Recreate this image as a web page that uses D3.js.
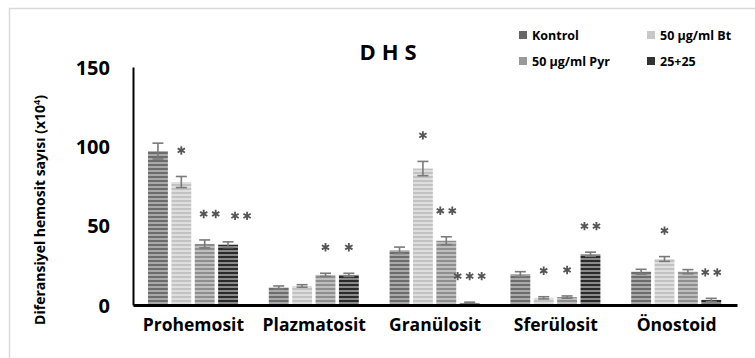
<!DOCTYPE html>
<html>
<head>
<meta charset="utf-8">
<script src="https://cdn.jsdelivr.net/npm/d3@7"></script>
<style>
  html, body { margin: 0; padding: 0; background: #fff; }
  svg { display: block; font-family: "Open Sans", "Liberation Sans", sans-serif; }
</style>
</head>
<body>
<svg id="chart" width="755" height="358"></svg>
<script>
// ---- data ----
const categories = ["Prohemosit", "Plazmatosit", "Granülosit", "Sferülosit", "Önostoid"];
const seriesNames = ["Kontrol", "50 µg/ml Bt", "50 µg/ml Pyr", "25+25"];
const kontrolValues = [97, 11, 34.5, 19.5, 21];
const kontrolErrors = [5, 1, 2, 1.5, 1.5];
const btValues = [77.5, 12, 86, 4.5, 29];
const btErrors = [3.5, 0.8, 4.5, 0.7, 1.5];
const pyrValues = [38.5, 19, 40.5, 5, 21];
const pyrErrors = [2.5, 1, 2.5, 0.7, 1.3];
const comboValues = [38, 19, 1.3, 32, 3.2];
const comboErrors = [1.8, 1, 0.5, 1.3, 1];
const kontrolStars = ["", "", "", "", ""];
const btStars = ["*", "", "*", "*", "*"];
const pyrStars = ["**", "*", "**", "*", ""];
const comboStars = ["**", "*", "***", "**", "**"];
const yTicks = [0, 50, 100, 150];
const titleText = "DHS";
const yAxisTitle = "Diferansiyel hemosit sayısı (x10";

// ---- build table ----
const seriesValues = [kontrolValues, btValues, pyrValues, comboValues];
const seriesErrors = [kontrolErrors, btErrors, pyrErrors, comboErrors];
const seriesStars = [kontrolStars, btStars, pyrStars, comboStars];
const table = [];
categories.forEach((c, ci) => {
  seriesNames.forEach((s, si) => {
    table.push({ cat: c, series: s, si, value: seriesValues[si][ci], err: seriesErrors[si][ci], stars: seriesStars[si][ci] });
  });
});

// ---- styles ----
const stripeDark = ["#6c6c6c", "#c2c2c2", "#8e8e8e", "#2a2a2a"];
const stripeLight = ["#a9a9a9", "#dedede", "#bebebe", "#8a8a8a"];
const legendColors = ["#666666", "#c8c8c8", "#999999", "#333333"];

const svg = d3.select("#chart");
svg.append("rect").attr("x", 0).attr("y", 0).attr("width", 755).attr("height", 358).attr("fill", "#fff");
svg.append("rect").attr("x", 9.5).attr("y", 8.5).attr("width", 900).attr("height", 500)
  .attr("fill", "none").attr("stroke", "#d9d9d9").attr("stroke-width", 1.5);

const defs = svg.append("defs");
seriesNames.forEach((s, i) => {
  const p = defs.append("pattern").attr("id", "pat" + i)
    .attr("patternUnits", "userSpaceOnUse").attr("width", 4).attr("height", 4);
  p.append("rect").attr("width", 4).attr("height", 4).attr("fill", stripeLight[i]);
  p.append("rect").attr("width", 4).attr("height", 2).attr("fill", stripeDark[i]);
});

const x0 = d3.scaleBand().domain(categories).range([133, 737]).paddingInner(0).paddingOuter(0);
const x1 = d3.scaleBand().domain(seriesNames).range([15, x0.bandwidth() - 15.8]).paddingInner(0.15).paddingOuter(0);
const y = d3.scaleLinear().domain([0, 150]).range([305, 67]);

// bars
const g = svg.append("g");
g.selectAll("rect.bar").data(table).join("rect").attr("class", "bar")
  .attr("x", d => x0(d.cat) + x1(d.series))
  .attr("y", d => y(d.value))
  .attr("width", x1.bandwidth())
  .attr("height", d => y(0) - y(d.value))
  .attr("fill", d => `url(#pat${d.si})`);

// error bars
const eb = g.selectAll("g.err").data(table).join("g").attr("class", "err")
  .attr("stroke", "#7a7a7a").attr("stroke-width", 1.6).attr("fill", "none");
eb.append("line")
  .attr("x1", d => x0(d.cat) + x1(d.series) + x1.bandwidth() / 2)
  .attr("x2", d => x0(d.cat) + x1(d.series) + x1.bandwidth() / 2)
  .attr("y1", d => y(d.value - d.err)).attr("y2", d => y(d.value + d.err));
[1, -1].forEach(sign => {
  eb.append("line")
    .attr("x1", d => x0(d.cat) + x1(d.series) + x1.bandwidth() / 2 - 5.5)
    .attr("x2", d => x0(d.cat) + x1(d.series) + x1.bandwidth() / 2 + 5.5)
    .attr("y1", d => y(d.value + sign * d.err)).attr("y2", d => y(d.value + sign * d.err));
});

// significance stars (drawn as asterisk glyph paths, centred above each error bar)
const nudge = { "Prohemosit|50 µg/ml Pyr": 5, "Prohemosit|25+25": 13 };
const starData = [];
table.filter(d => d.stars).forEach(d => {
  const n = d.stars.length;
  const cx = x0(d.cat) + x1(d.series) + x1.bandwidth() / 2 + (nudge[d.cat + "|" + d.series] || 0);
  const cy = y(d.value + d.err) - 26;
  for (let i = 0; i < n; i++) starData.push({ x: cx + (i - (n - 1) / 2) * 12, y: cy });
});
const r = 4.2;
const starPath = [90, 30, 150].map(a => {
  const t = a * Math.PI / 180;
  return `M${(-r * Math.cos(t)).toFixed(2)},${(-r * Math.sin(t)).toFixed(2)}L${(r * Math.cos(t)).toFixed(2)},${(r * Math.sin(t)).toFixed(2)}`;
}).join("");
g.selectAll("path.star").data(starData).join("path").attr("class", "star")
  .attr("transform", d => `translate(${d.x},${d.y})`)
  .attr("d", starPath).attr("stroke", "#555").attr("stroke-width", 1.8).attr("fill", "none");

// axes
const yAxis = svg.append("g").attr("transform", "translate(133,0)")
  .call(d3.axisLeft(y).tickValues(yTicks).tickSize(0).tickPadding(23));
yAxis.select(".domain").attr("stroke", "#000").attr("stroke-width", 2);
yAxis.selectAll("text").attr("font-size", 20).attr("font-weight", 700).attr("fill", "#000")
  .attr("font-family", "Open Sans, sans-serif").attr("dy", "0.36em");

const xAxis = svg.append("g").attr("transform", "translate(0,305)")
  .call(d3.axisBottom(x0).tickSize(0).tickPadding(14));
xAxis.select(".domain").attr("stroke", "#000").attr("stroke-width", 3);
xAxis.selectAll("text").attr("font-size", 17.5).attr("font-weight", 700).attr("fill", "#000")
  .attr("font-family", "Open Sans, sans-serif");

// y axis title
const yt = svg.append("text").attr("transform", "translate(45,210) rotate(-90)")
  .attr("text-anchor", "middle")
  .attr("font-size", 14).attr("font-weight", 700).attr("fill", "#000");
yt.append("tspan").text(yAxisTitle);
yt.append("tspan").attr("dy", -5).attr("font-size", 9).text("4");
yt.append("tspan").attr("dy", 5).text(")");

// title
svg.append("text").attr("x", 391).attr("y", 60).attr("text-anchor", "middle")
  .attr("font-size", 22).attr("font-weight", 700).attr("letter-spacing", 6).attr("fill", "#000")
  .text(titleText);

// legend
const legPos = [[519, 35], [647, 35], [519, 61], [647, 61]];
const leg = svg.selectAll("g.leg").data(seriesNames).join("g").attr("class", "leg")
  .attr("transform", (d, i) => `translate(${legPos[i][0]},${legPos[i][1]})`);
leg.append("rect").attr("x", 0).attr("y", -4).attr("width", 8).attr("height", 8)
  .attr("fill", (d, i) => legendColors[i]);
leg.append("text").attr("x", 13).attr("y", 4.5).attr("font-size", 12.5).attr("font-weight", 700)
  .attr("fill", "#000").text(d => d);
</script>
</body>
</html>
